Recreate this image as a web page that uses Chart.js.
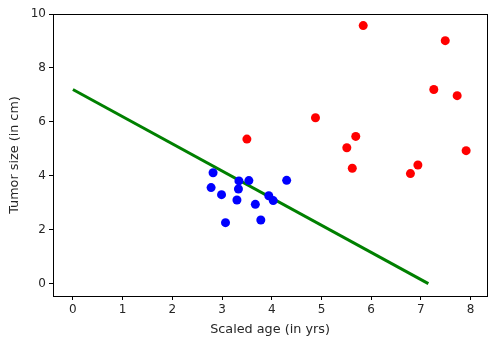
<!DOCTYPE html>
<html>
<head>
<meta charset="utf-8">
<script src="https://cdn.jsdelivr.net/npm/chart.js@4"></script>
<style>
  html, body { margin: 0; padding: 0; background: #fff; }
  #wrap { width: 500px; height: 345px; }
</style>
</head>
<body>
<div id="wrap"><canvas id="myChart"></canvas></div>
<script>
// benign tumours (blue) and malignant (red)
const blueX = [2.82, 2.78, 2.99, 3.07, 3.34, 3.33, 3.30, 3.54, 3.67, 3.78, 3.94, 4.03, 4.30];
const blueY = [4.11, 3.56, 3.30, 2.26, 3.81, 3.51, 3.10, 3.82, 2.94, 2.36, 3.26, 3.08, 3.83];
const redX = [5.84, 7.49, 7.26, 7.73, 4.88, 3.50, 5.69, 5.51, 5.62, 7.91, 6.94, 6.79];
const redY = [9.57, 9.01, 7.20, 6.97, 6.15, 5.36, 5.46, 5.04, 4.28, 4.93, 4.40, 4.08];

// decision boundary end points
const lineX = [0, 7.15];
const lineY = [7.2, 0];

const xTicks = [0, 1, 2, 3, 4, 5, 6, 7, 8];
const yTicks = [0, 2, 4, 6, 8, 10];

const toPoints = (xs, ys) => xs.map((x, i) => ({ x: x, y: ys[i] }));

const frame = {
    id: 'frame',
    afterDraw(chart) {
        const a = chart.chartArea;
        const c = chart.ctx;
        c.save();
        c.strokeStyle = '#000';
        c.lineWidth = 1;
        c.strokeRect(Math.round(a.left) + 0.5, Math.round(a.top) + 0.5,
            Math.round(a.right - a.left), Math.round(a.bottom - a.top));
        c.restore();
    }
};

const tickFont = { family: 'DejaVu Sans', size: 12 };
const titleFont = { family: 'DejaVu Sans', size: 12.8 };

const ctx = document.getElementById('myChart');

const myChart = new Chart(ctx, {
    type: 'scatter',
    data: {
        datasets: [
            {
                label: 'line',
                data: toPoints(lineX, lineY),
                showLine: true,
                borderColor: '#008000',
                borderWidth: 3,
                pointRadius: 0,
                order: 2
            },
            {
                label: 'benign',
                data: toPoints(blueX, blueY),
                backgroundColor: '#0000ff',
                borderColor: '#0000ff',
                borderWidth: 0,
                pointRadius: 4.5,
                order: 1
            },
            {
                label: 'malignant',
                data: toPoints(redX, redY),
                backgroundColor: '#ff0000',
                borderColor: '#ff0000',
                borderWidth: 0,
                pointRadius: 4.5,
                order: 1
            }
        ]
    },
    options: {
        responsive: true,
        maintainAspectRatio: false,
        animation: false,
        layout: { padding: { left: 0, top: 14, right: 13, bottom: 0 } },
        plugins: {
            legend: { display: false },
            tooltip: { enabled: false }
        },
        scales: {
            x: {
                type: 'linear',
                min: -0.4,
                max: 8.33,
                afterBuildTicks: s => { s.ticks = xTicks.map(v => ({ value: v })); },
                afterFit: s => { s.height = 49; },
                grid: { drawOnChartArea: false, drawTicks: true, tickLength: 4, color: '#000' },
                border: { display: false },
                ticks: { color: '#262626', font: tickFont, padding: 3, maxRotation: 0 },
                title: { display: true, text: 'Scaled age (in yrs)', color: '#262626', font: titleFont, padding: { top: 0, bottom: 8 } }
            },
            y: {
                type: 'linear',
                min: -0.46,
                max: 10,
                afterBuildTicks: s => { s.ticks = yTicks.map(v => ({ value: v })); },
                afterFit: s => { s.width = 53; },
                grid: { drawOnChartArea: false, drawTicks: true, tickLength: 4, color: '#000' },
                border: { display: false },
                ticks: { color: '#262626', font: tickFont, padding: 3 },
                title: { display: true, text: 'Tumor size (in cm)', color: '#262626', font: titleFont, padding: { top: 7, bottom: 0 } }
            }
        }
    },
    plugins: [frame]
});
</script>
</body>
</html>
